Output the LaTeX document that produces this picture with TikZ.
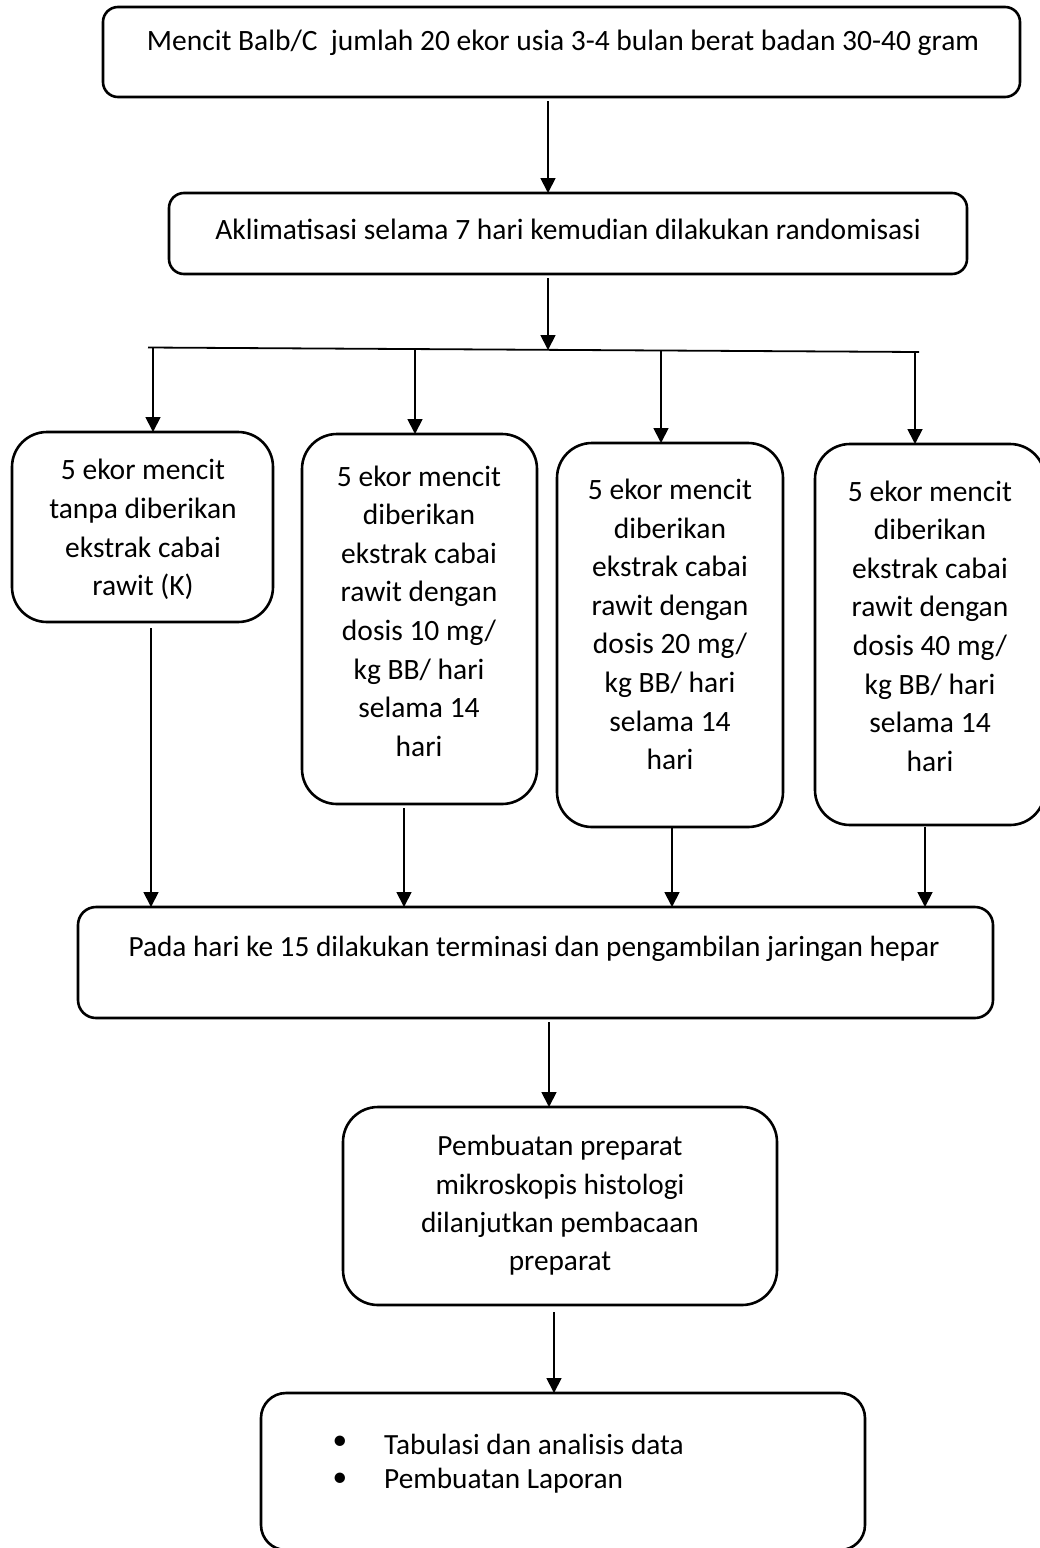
\documentclass[tikz,border=0pt]{standalone}
\usepackage{fontspec}
\setmainfont{Carlito}
\usetikzlibrary{arrows.meta}
\tikzset{
  box/.style={draw, line width=2.6pt, inner sep=0pt, outer sep=0pt},
  arr/.style={line width=1.8pt, -{Triangle[length=15pt,width=15pt]}},
  plain/.style={line width=1.8pt},
  txt/.style={align=center, inner sep=0pt, font=\fontsize{29.5}{38.6}\selectfont},
  btxt/.style={align=center, inner sep=0pt, font=\fontsize{29.3}{38.3}\selectfont},
}
\begin{document}
\begin{tikzpicture}[x=1pt,y=-1pt]
\useasboundingbox (0,0) rectangle (1040,1548);
% boxes
\node[box, rounded corners=15pt, minimum width=917pt, minimum height=90pt] (b1) at (561.5,52) {};
\node[txt] (t1) at (563,43) {Mencit Balb/C\ \ jumlah 20 ekor usia 3-4 bulan berat badan 30-40 gram};
\node[box, rounded corners=15pt, minimum width=798pt, minimum height=81pt] (b2) at (568,233.5) {};
\node[txt] (t2) at (568,229) {Aklimatisasi selama 7 hari kemudian dilakukan randomisasi};
\node[box, rounded corners=35pt, minimum width=261pt, minimum height=190pt] (k1) at (142.5,527) {};
\node[txt] (tk1) at (143,529.5) {5 ekor mencit\\tanpa diberikan\\ekstrak cabai\\rawit (K)};
\node[box, rounded corners=35pt, minimum width=235pt, minimum height=370pt] (k2) at (419.5,619) {};
\node[txt] (tk2) at (419,611) {5 ekor mencit\\diberikan\\ekstrak cabai\\rawit dengan\\dosis 10 mg/\\kg BB/ hari\\selama 14\\hari};
\node[box, rounded corners=35pt, minimum width=226pt, minimum height=384pt] (k3) at (670,635) {};
\node[txt] (tk3) at (670,624.5) {5 ekor mencit\\diberikan\\ekstrak cabai\\rawit dengan\\dosis 20 mg/\\kg BB/ hari\\selama 14\\hari};
\node[box, rounded corners=35pt, minimum width=230pt, minimum height=381pt] (k4) at (930,634.5) {};
\node[txt] (tk4) at (930,626) {5 ekor mencit\\diberikan\\ekstrak cabai\\rawit dengan\\dosis 40 mg/\\kg BB/ hari\\selama 14\\hari};
\node[box, rounded corners=18pt, minimum width=915pt, minimum height=111pt] (b5) at (535.5,962.5) {};
\node[btxt] (t5) at (534,949) {Pada hari ke 15 dilakukan terminasi dan pengambilan jaringan hepar};
\node[box, rounded corners=35pt, minimum width=434pt, minimum height=198pt] (b6) at (560,1206) {};
\node[btxt] (t6) at (560,1205.5) {Pembuatan preparat\\mikroskopis histologi\\dilanjutkan pembacaan\\preparat};
\node[box, rounded corners=25pt, minimum width=604pt, minimum height=157pt] (b7) at (563,1471.5) {};
\node[btxt] (u1) at (340,1443) {•};
\node[btxt, anchor=west] (l1) at (384,1444) {Tabulasi dan analisis data};
\node[btxt] (u2) at (340,1480) {•};
\node[btxt, anchor=west] (l2) at (384,1481) {Pembuatan Laporan};
% connector coordinates
\coordinate (s1) at (548,101);
\coordinate (s2) at (548,278);
\coordinate (j0) at (548,350);
\coordinate (hl) at (148,347.5);
\coordinate (hr) at (919,352);
\coordinate (j1) at (153,348);
\coordinate (j2) at (415,350);
\coordinate (j3) at (661,351);
\coordinate (j4) at (915,352);
\coordinate (d1) at (151,628);
\coordinate (d2) at (404,808);
\coordinate (d3) at (672,828);
\coordinate (d4) at (925,827);
\coordinate (s5) at (549,1022);
\coordinate (s6) at (554,1312);
% connectors
\draw[arr] (s1) -- (s1 |- b2.north);
\draw[plain] (hl) -- (hr);
\draw[arr] (s2) -- (j0);
\draw[arr] (j1) -- (j1 |- k1.north);
\draw[arr] (j2) -- (j2 |- k2.north);
\draw[arr] (j3) -- (j3 |- k3.north);
\draw[arr] (j4) -- (j4 |- k4.north);
\draw[arr] (d1) -- (d1 |- b5.north);
\draw[arr] (d2) -- (d2 |- b5.north);
\draw[arr] (d3) -- (d3 |- b5.north);
\draw[arr] (d4) -- (d4 |- b5.north);
\draw[arr] (s5) -- (s5 |- b6.north);
\draw[arr] (s6) -- (s6 |- b7.north);
\end{tikzpicture}
\end{document}
